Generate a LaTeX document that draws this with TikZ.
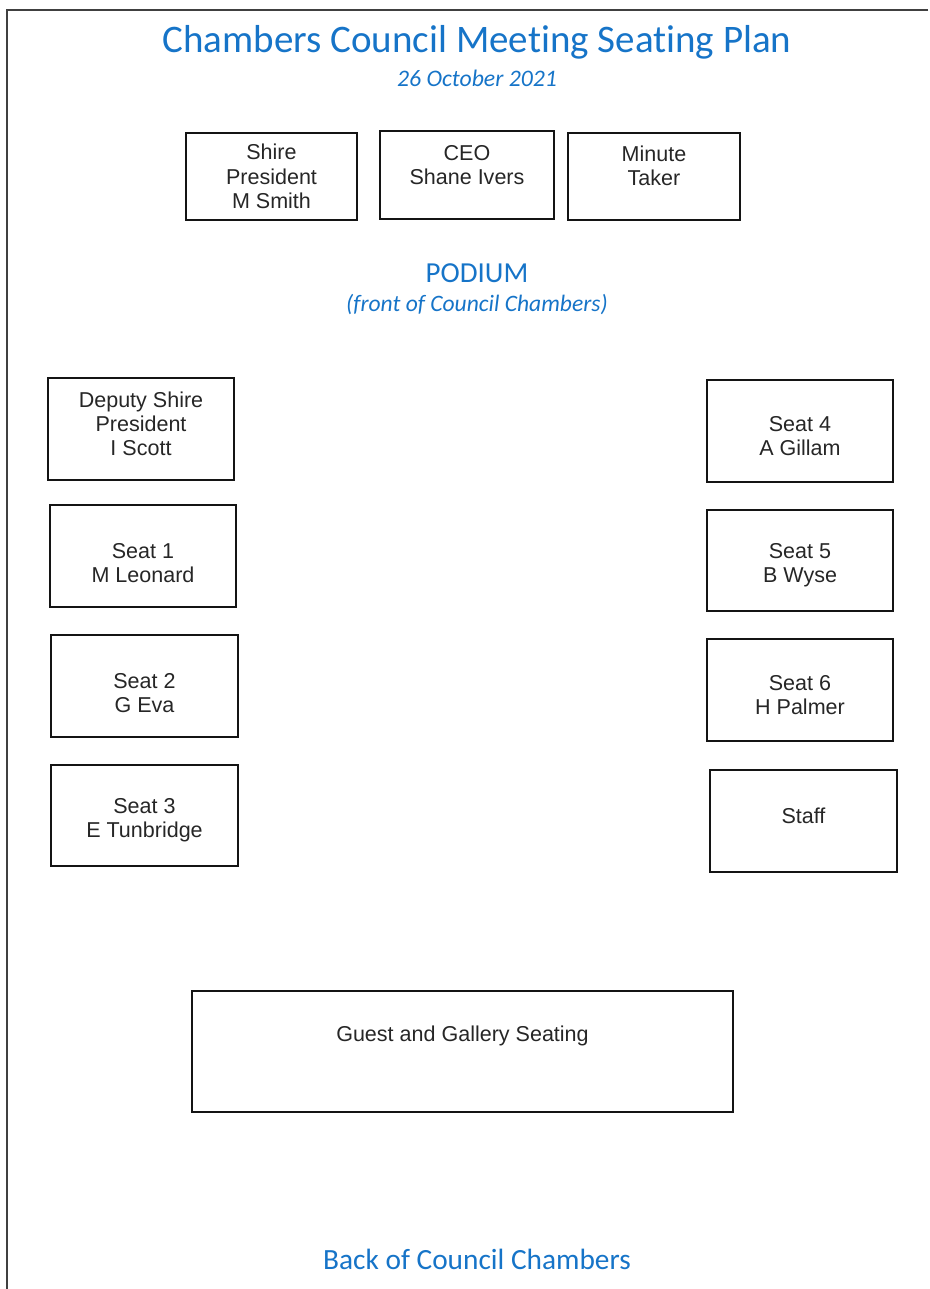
\documentclass[tikz,border=0pt]{standalone}
\usepackage{fontspec}
\setmainfont{Liberation Sans}
\newfontfamily\headfont[Ligatures=NoCommon]{Carlito}
\usetikzlibrary{positioning,calc}
\definecolor{plBlue}{RGB}{22,116,200}
\definecolor{plLine}{RGB}{20,20,20}

\begin{document}
\begin{tikzpicture}[
  x=0.02cm, y=-0.02cm,
  seat/.style={draw=plLine, line width=0.8pt, inner sep=0pt},
  lbl/.style={align=center, font=\fontsize{12.25}{13.8}\selectfont, text=black!85},
  hd/.style={text=plBlue, font=\headfont}
]
\useasboundingbox (0,0) rectangle (930,1289);
% page edge
\draw[line width=1pt, black!75] (928,10) -- (7,10) -- (7,1289);
% headings
\node[hd, font=\headfont\fontsize{22.2}{25}\selectfont] (title) at (477,42) {Chambers Council Meeting Seating Plan};
\node[hd, font=\headfont\itshape\fontsize{13.5}{15}\selectfont] (date) at (477,78) {26 October 2021};
\node[hd, font=\headfont\fontsize{16.5}{18}\selectfont] (podium) at (477,273) {PODIUM};
\node[hd, font=\headfont\itshape\fontsize{13.4}{15}\selectfont] (front) at (477,305) {(front of Council Chambers)};
\node[hd, font=\headfont\fontsize{16.7}{18}\selectfont] (back) at (477,1259) {Back of Council Chambers};
% boxes: name / centre x / centre y / width / height / text offset / text
\foreach \nm/\x/\y/\w/\h/\dy/\txt in {
    pres/271.5/176.5/171/87/0/{Shire\\President\\M Smith},
    ceo/467/175/174/88/-10/{CEO\\Shane Ivers},
    mins/654/176.5/172/87/-11/{Minute\\Taker},
    dep/141/429/186/102/-5/{Deputy Shire\\President\\I Scott},
    s1/143/556/186/102/7/{Seat 1\\M Leonard},
    s2/144.5/686/187/102/7/{Seat 2\\G Eva},
    s3/144.5/815.5/187/101/5/{Seat 3\\E Tunbridge},
    s4/800/431/186/102/5/{Seat 4\\A Gillam},
    s5/800/560.5/186/101/5/{Seat 5\\B Wyse},
    s6/800/690/186/102/5/{Seat 6\\H Palmer},
    staff/803.5/821/187/102/-5/{Staff},
    guest/462.5/1051.5/541/121/-16/{Guest and Gallery Seating}} {
  \node[seat, minimum width=\w*0.02cm, minimum height=\h*0.02cm] (\nm) at (\x,\y) {};
  \node[lbl] (\nm-t) at ($(\nm.center)+(0,\dy)$) {\txt};
}
\end{tikzpicture}
\end{document}
